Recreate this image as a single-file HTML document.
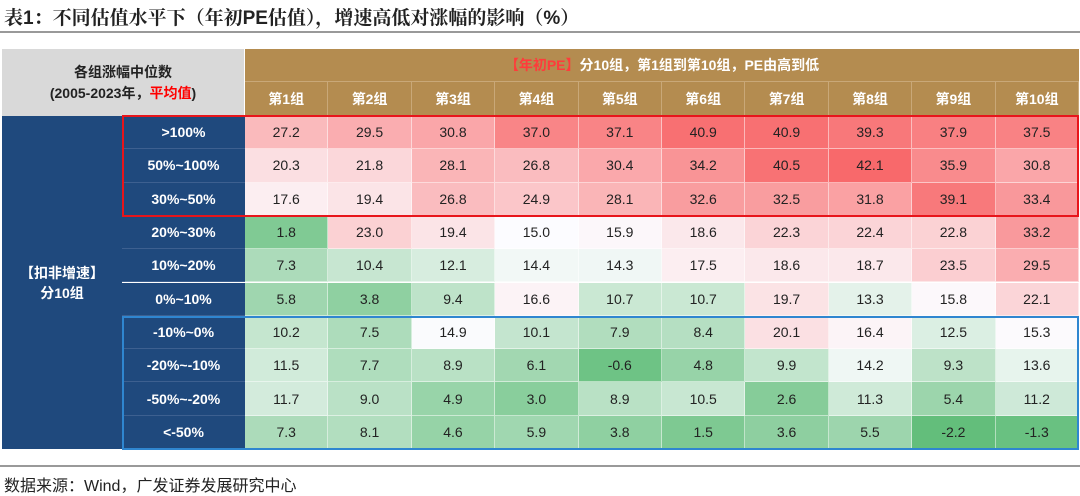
<!DOCTYPE html>
<html><head><meta charset="utf-8">
<style>
body{margin:0;width:1080px;height:492px;background:#fff;position:relative;overflow:hidden;font-family:"Liberation Sans","Noto Sans CJK SC",sans-serif;}
.a{position:absolute;box-sizing:border-box;display:flex;align-items:center;justify-content:center;text-align:center;}
#title{position:absolute;left:4px;top:3px;font-size:19px;font-weight:bold;color:#222;font-family:"Liberation Sans","Noto Serif CJK SC",serif;}
#tline{position:absolute;left:0;top:31px;width:1080px;height:2px;background:#999;}
#fline{position:absolute;left:0;top:465px;width:1080px;height:2px;background:#999;}
#foot{position:absolute;left:4px;top:472px;font-size:16px;color:#222;}
</style></head><body>
<div id="title">表1：不同估值水平下（年初PE估值），增速高低对涨幅的影响（%）</div>
<div id="tline"></div>
<div id="tbl"></div>
<div id="fline"></div>
<div id="foot">数据来源：Wind，广发证券发展研究中心</div>
<script>
const groups=["第1组","第2组","第3组","第4组","第5组","第6组","第7组","第8组","第9组","第10组"];
const rowLabels=[">100%","50%~100%","30%~50%","20%~30%","10%~20%","0%~10%","-10%~0%","-20%~-10%","-50%~-20%","<-50%"];
const r0=[27.2,29.5,30.8,37.0,37.1,40.9,40.9,39.3,37.9,37.5];
const r1=[20.3,21.8,28.1,26.8,30.4,34.2,40.5,42.1,35.9,30.8];
const r2=[17.6,19.4,26.8,24.9,28.1,32.6,32.5,31.8,39.1,33.4];
const r3=[1.8,23.0,19.4,15.0,15.9,18.6,22.3,22.4,22.8,33.2];
const r4=[7.3,10.4,12.1,14.4,14.3,17.5,18.6,18.7,23.5,29.5];
const r5=[5.8,3.8,9.4,16.6,10.7,10.7,19.7,13.3,15.8,22.1];
const r6=[10.2,7.5,14.9,10.1,7.9,8.4,20.1,16.4,12.5,15.3];
const r7=[11.5,7.7,8.9,6.1,-0.6,4.8,9.9,14.2,9.3,13.6];
const r8=[11.7,9.0,4.9,3.0,8.9,10.5,2.6,11.3,5.4,11.2];
const r9=[7.3,8.1,4.6,5.9,3.8,1.5,3.6,5.5,-2.2,-1.3];
const rows=[r0,r1,r2,r3,r4,r5,r6,r7,r8,r9];

const T=document.getElementById('tbl');
const X0=2,XL=122,XD=245,XR=1079,Y0=49,YH=82,YD=116,RH=33.3;
const CW=(XR-XD)/groups.length;
function box(x,y,w,h,bg,html,style){const d=document.createElement('div');d.className='a';d.style.cssText=`left:${x}px;top:${y}px;width:${w}px;height:${h}px;background:${bg};`+(style||'');d.innerHTML='<div>'+html+'</div>';T.appendChild(d);return d;}
function mix(a,b,t){return a.map((v,i)=>Math.round(v+(b[i]-v)*t));}
const all=rows.flat();const mn=Math.min(...all),mx=Math.max(...all),mid=15;
function color(v){const G=[99,190,123],W=[252,252,255],R=[248,105,107];
 let c=v<mid?mix(W,G,Math.min(1,Math.pow((mid-v)/(mid-mn),0.8))):mix(W,R,Math.min(1,(v-mid)/(mx-mid)));return `rgb(${c.join(',')})`;}

let e=box(X0,Y0,XD-X0,YD-Y0,'#d9d9d9','各组涨幅中位数<br>(2005-2023年，<span style="color:#ff0000">平均值</span>)','font-weight:bold;font-size:14px;color:#222;line-height:21px;border-right:1px solid #fff;');

e=box(XD,Y0,XR-XD,YH-Y0,'#b48c50','<span style="color:#ff3b3b">【年初PE】</span>分10组，第1组到第10组，PE由高到低','font-weight:bold;font-size:14px;color:#fff;border-bottom:1px solid #c9a878;');

groups.forEach((g,i)=>{const d=box(XD+i*CW,YH,CW,YD-YH,'#b48c50',g,'font-weight:bold;font-size:14px;color:#fff;border-right:1px solid #c9a878;');
 
 });
e=box(X0,YD,XL-X0,RH*10,'#1f497d','【扣非增速】<br>分10组','font-weight:bold;font-size:14px;color:#fff;line-height:20px;');

rowLabels.forEach((l,r)=>{const d=box(XL,YD+r*RH,XD-XL,RH,'#1f497d',l,'font-weight:bold;font-size:14px;color:#fff;border-bottom:1px solid #3d6090;');
 
 
 rows[r].forEach((v,c)=>{const q=box(XD+c*CW,YD+r*RH,CW,RH,color(v),v.toFixed(1),'font-size:14px;color:#222;border-right:1px solid rgba(255,255,255,0.5);border-bottom:1px solid rgba(255,255,255,0.5);');
  
  });});
e=box(XL,YD-1,XR-XL,RH*3+2,'transparent','','border:2px solid #e8151b;');

e=box(XL,YD+RH*6,XR-XL,RH*4+1,'transparent','','border:2px solid #2f86d0;');

</script>
</body></html>
